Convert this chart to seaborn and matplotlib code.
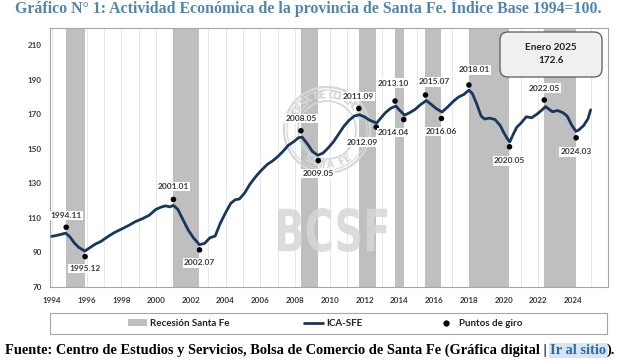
import numpy as np
import pandas as pd
import matplotlib.pyplot as plt
import seaborn as sns
from matplotlib.patches import Rectangle, FancyBboxPatch, Ellipse, Patch, PathPatch
from matplotlib.lines import Line2D
from matplotlib.textpath import TextPath
from matplotlib.font_manager import FontProperties
from matplotlib.transforms import Affine2D
from matplotlib.ticker import MultipleLocator

# ICA-SFE, indice base 1994=100
fecha = [1994.00, 1994.25, 1994.50, 1994.80, 1995.05, 1995.30, 1995.55, 1995.90,
         1996.20, 1996.50, 1996.85, 1997.20, 1997.60, 1998.00, 1998.40, 1998.80,
         1999.20, 1999.60, 2000.00, 2000.30, 2000.55, 2000.80, 2001.00, 2001.25,
         2001.55, 2001.85, 2002.15, 2002.50, 2002.80, 2003.10, 2003.40, 2003.70,
         2004.00, 2004.30, 2004.55, 2004.80, 2005.10, 2005.40, 2005.70, 2006.00,
         2006.40, 2006.70, 2007.00, 2007.30, 2007.60, 2007.90, 2008.20, 2008.40,
         2008.70, 2009.00, 2009.30, 2009.60, 2009.90, 2010.20, 2010.50, 2010.80,
         2011.10, 2011.40, 2011.70, 2012.00, 2012.30, 2012.70, 2012.90, 2013.20,
         2013.50, 2013.80, 2014.00, 2014.30, 2014.60, 2014.90, 2015.20, 2015.55,
         2015.80, 2016.10, 2016.45, 2016.80, 2017.10, 2017.40, 2017.70, 2018.00,
         2018.20, 2018.45, 2018.70, 2018.90, 2019.20, 2019.50, 2019.80, 2020.00,
         2020.20, 2020.35, 2020.55, 2020.75, 2021.00, 2021.30, 2021.60, 2021.90,
         2022.20, 2022.40, 2022.60, 2022.80, 2023.10, 2023.40, 2023.65, 2023.90,
         2024.15, 2024.30, 2024.60, 2024.85, 2025.00]
ica_sfe = [99.3, 99.8, 100.4, 101.2, 99.0, 95.5, 93.0, 90.8,
           92.8, 94.8, 96.5, 99.0, 101.5, 103.5, 105.5, 107.8,
           109.5, 111.5, 115.0, 116.3, 117.0, 116.4, 117.3, 115.0,
           109.0, 103.0, 98.5, 94.5, 95.3, 98.5, 99.5, 107.0,
           113.0, 118.5, 120.5, 121.0, 124.5, 129.5, 133.5, 137.0,
           141.0, 143.0, 145.5, 148.5, 152.0, 154.0, 156.5, 156.8,
           153.0, 148.5, 146.3, 147.5, 150.5, 154.0, 158.5, 163.0,
           166.5, 169.0, 169.8, 168.5, 166.5, 165.0, 167.5, 171.0,
           173.5, 174.8, 172.5, 169.5, 171.0, 172.8, 175.5, 178.0,
           176.0, 173.5, 171.3, 174.5, 177.5, 180.0, 181.5, 184.0,
           182.0, 176.0, 169.0, 167.3, 167.8, 167.0, 163.5, 159.5,
           156.0, 154.0, 158.5, 162.5, 165.0, 168.6, 168.0, 170.0,
           172.5, 174.5, 173.0, 171.5, 172.2, 171.0, 169.0, 164.0,
           160.2, 160.8, 163.5, 167.5, 172.6]

# puntos de giro (pico / valle alternados)
giro_labels = ["1994.11", "1995.12", "2001.01", "2002.07", "2008.05", "2009.05",
               "2011.09", "2012.09", "2013.10", "2014.04", "2015.07", "2016.06",
               "2018.01", "2020.05", "2022.05", "2024.03"]
giro_valores = [104.6, 87.6, 120.7, 91.5, 160.5, 143.2, 173.4, 162.6,
                177.7, 167.0, 181.2, 167.6, 187.0, 151.2, 178.3, 156.4]
ultimo_dato = "Enero 2025"

# posicion de las etiquetas respecto del punto (pixeles)
offsets = [(0, 12), (0, -12), (0, 13), (0, -13), (0, 12), (0, -13),
           (-1, 12), (-14, -15), (-2, 18), (-10, -13), (9, 13), (0, -13),
           (5, 15), (0, -14), (0, 12), (0, -14)]

W, H = 642, 361
NAVY = "#17375e"
BAND = "#bfbfbf"
SPINE = "#a6a6a6"
TXT = "#3a3a3a"

sns.set_style("white")
plt.rcParams["font.family"] = ["Lato", "DejaVu Sans"]

def fx(px):
    return px / W

def fy(py):
    return 1 - py / H

def mes_a_anio(s):
    y, m = s.split(".")
    return int(y) + (int(m) - 1) / 12

df = pd.DataFrame({"fecha": fecha, "ica": ica_sfe})
giros = pd.DataFrame({"fecha": [mes_a_anio(s) for s in giro_labels],
                      "valor": giro_valores, "label": giro_labels})

fig = plt.figure(figsize=(W / 100, H / 100), dpi=100)
ax = fig.add_axes([fx(50), fy(287), fx(608) - fx(50), fy(28) - fy(287)])

# recesiones: de cada pico al valle siguiente
for i in range(0, len(giros), 2):
    ax.axvspan(giros.fecha[i], giros.fecha[i + 1], color=BAND, lw=0, zorder=1)

# marca de agua (sello + BCSF)
wm = "#d6d6d6"
cx, cy = 327, 130
for r, lw in [(43, 1.6), (40, 0.8), (29, 1.2)]:
    ax.add_patch(Ellipse((fx(cx), fy(cy)), 2 * r / W, 2 * r / H, fill=False,
                         ec=wm, lw=lw, transform=fig.transFigure, zorder=1.5))

def arco(texto, a0, a1, radio, arriba=True):
    angs = np.linspace(a0, a1, len(texto))
    for ch, a in zip(texto, angs):
        t = np.deg2rad(a)
        ax.text(fx(cx + radio * np.cos(t)), fy(cy - radio * np.sin(t)), ch,
                rotation=a - 90 if arriba else a + 90, ha="center", va="center",
                fontsize=7, fontweight="bold", color=wm, family="DejaVu Sans",
                transform=fig.transFigure, zorder=1.5)

arco("BOLSA DE COMERCIO", 155, 25, 35)
arco("SANTA FE", 235, 305, 35, arriba=False)
tp = TextPath((0, 0), "BCSF", size=1, prop=FontProperties(family="DejaVu Sans", weight="bold"))
ext = tp.get_extents()
sx = (109 / W) / ext.width
sy = (44 / H) / ext.height
tr = Affine2D().translate(-ext.x0, -ext.y0).scale(sx, sy).translate(fx(278), fy(252))
ax.add_patch(PathPatch(tr.transform_path(tp), fc=wm, ec="none", alpha=0.85,
                       transform=fig.transFigure, zorder=1.5))

sns.lineplot(data=df, x="fecha", y="ica", ax=ax, color=NAVY, lw=2.0, zorder=3)
sns.scatterplot(data=giros, x="fecha", y="valor", ax=ax, color="black", s=16,
                edgecolor="none", zorder=4)

for (_, g), (dx, dy) in zip(giros.iterrows(), offsets):
    ax.annotate(g.label, (g.fecha, g.valor), xytext=(dx, dy), textcoords="offset pixels",
                ha="center", va="center", fontsize=6, fontweight="bold", color=TXT,
                bbox=dict(boxstyle="square,pad=0.15", fc="white", ec="none"), zorder=5)

ax.set_xlim(1993.9, 2026.0)
ax.set_ylim(70, 220)
ax.set_yticks(np.arange(70, 211, 20))
ax.xaxis.set_major_locator(MultipleLocator(2))
ax.xaxis.set_minor_locator(MultipleLocator(1))
ax.set_xticks(np.arange(1994, 2025, 2))
ax.set_xlabel("")
ax.set_ylabel("")
ax.set_axisbelow(True)
ax.grid(True, axis="x", which="both", color="#e4e4e4", lw=0.6)
ax.grid(False, axis="y")
for s in ax.spines.values():
    s.set_color(SPINE)
    s.set_linewidth(0.8)
ax.tick_params(axis="both", which="both", length=3, width=0.6, color=SPINE,
               labelsize=5.8, labelcolor=TXT, pad=3)
ax.tick_params(axis="x", which="major", pad=4)
for lab in ax.get_xticklabels() + ax.get_yticklabels():
    lab.set_fontweight("bold")

# recuadro ultimo dato
box = FancyBboxPatch((5.00, (H - 77) / 100), 1.02, 0.45,
                     boxstyle="round,pad=0,rounding_size=0.08",
                     fc="#f0f0f0", ec="#5a5a5a", lw=0.9,
                     transform=fig.dpi_scale_trans, zorder=6)
fig.patches.append(box)
fig.text(fx(551), fy(54), f"{ultimo_dato}\n{ica_sfe[-1]:.1f}", ha="center", va="center",
         fontsize=7.2, fontweight="bold", color="#222222", linespacing=1.45, zorder=7)

# leyenda
fig.patches.append(Rectangle((fx(50), fy(334)), fx(607) - fx(50), fy(313) - fy(334),
                             transform=fig.transFigure, fill=False, ec=SPINE, lw=0.8))
handles = [Patch(fc=BAND, ec="none"),
           Line2D([], [], color=NAVY, lw=2),
           Line2D([], [], color="black", marker="o", ms=3.5, ls="none")]
fig.legend(handles, ["Recesión Santa Fe", "ICA-SFE", "Puntos de giro"], ncol=3,
           loc="center", bbox_to_anchor=(fx(325), fy(323.5)), frameon=False,
           prop=dict(weight="bold", size=7), labelcolor="#222222",
           columnspacing=7.6, handlelength=2.0, handletextpad=0.3, handleheight=0.7)

# titulo y fuente
fig.text(fx(15), fy(13), "Gráfico N° 1: Actividad Económica de la provincia de Santa Fe. Índice Base 1994=100.",
         ha="left", va="baseline", fontsize=11.4, fontweight="bold", color="#4f86ad",
         family="Liberation Serif")

fig.canvas.draw()
rend = fig.canvas.get_renderer()
fuente_kw = dict(ha="left", va="baseline", fontsize=10.4, fontweight="bold", family="Liberation Serif")
t1 = fig.text(fx(5), fy(354), "Fuente: Centro de Estudios y Servicios, Bolsa de Comercio de Santa Fe (Gráfica digital | ",
              color="black", **fuente_kw)
x1 = t1.get_window_extent(rend).x1
t2 = fig.text(x1 / W, fy(354), "Ir al sitio", color="#2f6aa8",
              bbox=dict(boxstyle="square,pad=0.1", fc="#d6e4f3", ec="none"), **fuente_kw)
x2 = t2.get_window_extent(rend).x1
fig.text(x2 / W, fy(354), ").", color="black", **fuente_kw)

fig.savefig("out.png", dpi=100)
